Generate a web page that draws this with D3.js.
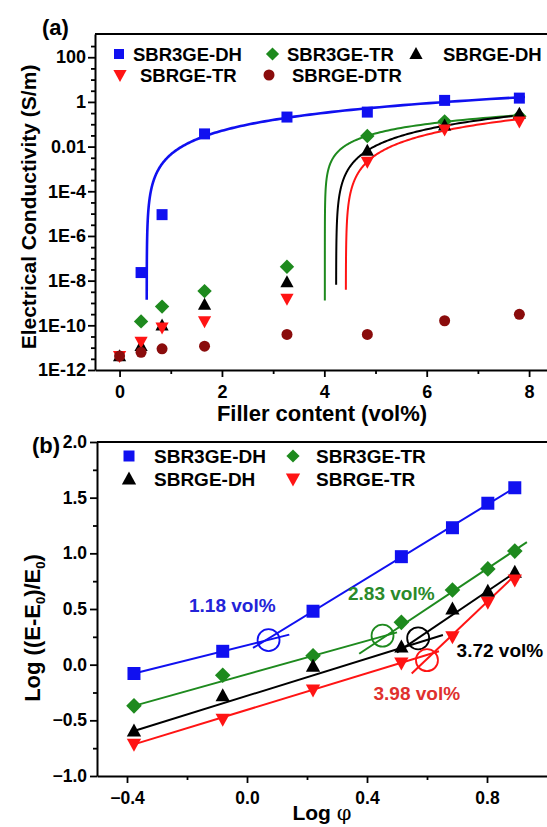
<!DOCTYPE html>
<html><head><meta charset="utf-8">
<script src="https://cdn.jsdelivr.net/npm/d3@7"></script>
<style>
body{margin:0;background:#fff}
svg text{font-family:"Liberation Sans",Arial,sans-serif;font-weight:bold}
</style>
</head><body>
<svg id="chart" width="547" height="827" xmlns="http://www.w3.org/2000/svg"></svg>
<script>
// ---------------- data: panel (a) ----------------
const filler = [0, 0.42, 0.83, 1.66, 3.27, 4.84, 6.35, 7.81];           // vol%
const sbr3geDH  = [null, 2.3e-8, 9e-6, 0.037, 0.21, 0.35, 1.17, 1.48];  // S/m
const sbr3geTR  = [null, 1.5e-10, 6.9e-10, 3.4e-9, 4.2e-8, 0.03, 0.135, 0.23];
const sbrgeDH   = [4.2e-12, 1.2e-11, 1.0e-10, 8.5e-10, 8.5e-9, 0.0066, 0.09, 0.3];
const sbrgeTR   = [4.2e-12, 1.8e-11, 7.9e-11, 1.5e-10, 1.55e-9, 0.0021, 0.058, 0.13];
const sbrgeDTR  = [4.2e-12, 6.2e-12, 8.9e-12, 1.17e-11, 3.9e-11, 3.9e-11, 1.6e-10, 3.1e-10];
// percolation fits  sigma = sigma0 * (phi - phiC)^t
const fitPhiC     = [0.53, 4.01, 4.23, 4.42];
const fitExponent = [2.15, 1.39, 2.05, 2.1];
const fitSigma0   = [0.0224, 0.0393, 0.0184, 0.0131];
const fitSigmaStart = [1.4e-9, 1.3e-9, 6.5e-9, 3.9e-9];
const fitPhiEnd   = [7.92, 7.9, 7.9, 7.9];
const yTicksA = [1e-12, 1e-10, 1e-8, 1e-6, 1e-4, 0.01, 1, 100];
const yTickLabelsA = ["1E-12", "1E-10", "1E-8", "1E-6", "1E-4", "0.01", "1", "100"];
const xTicksA = [0, 2, 4, 6, 8];

// ---------------- data: panel (b) ----------------
const logPhi = filler.slice(1).map(Math.log10);
const b_sbr3geDH = [-0.08, 0.12, 0.48, 0.97, 1.23, 1.45, 1.59];
const b_sbr3geTR = [-0.37, -0.095, 0.08, 0.38, 0.67, 0.86, 1.02];
const b_sbrgeDH  = [-0.596, -0.28, -0.015, 0.16, 0.50, 0.66, 0.83];
const b_sbrgeTR  = [-0.716, -0.49, -0.228, 0.015, 0.25, 0.56, 0.76];
// fitted straight segments [x0, y0, x1, y1] in data units
const lowerFits = [[-0.377, -0.08, 0.141, 0.27], [-0.377, -0.37, 0.50, 0.29], [-0.377, -0.596, 0.653, 0.267], [-0.377, -0.716, 0.64, 0.12]];
const upperFits = [[0.02, 0.15, 0.893, 1.59], [0.374, 0.098, 0.933, 1.10], [0.50, 0.11, 0.90, 0.84], [0.549, -0.08, 0.90, 0.82]];
const thresholds = [1.18, 2.83, 3.72, 3.98];
const thresholdY = [0.22, 0.26, 0.237, 0.04];
const thresholdLabels = ["1.18 vol%", "2.83 vol%", "3.72 vol%", "3.98 vol%"];
const labelX = [-0.049, 0.481, 0.843, 0.566];
const labelY = [0.536, 0.641, 0.132, -0.252];
const xTicksB = [-0.4, 0.0, 0.4, 0.8];
const yTicksB = [-1.0, -0.5, 0.0, 0.5, 1.0, 1.5, 2.0];

// ---------------- styles ----------------
const C = {blue: "#1010f0", green: "#1e8a1e", black: "#000000", red: "#ff1414", dred: "#8a0c0c"};
const textC = {blue: "#2323d8", green: "#2a8a2a", black: "#000", red: "#e0302e"};

const svg = d3.select("#chart");

function marker(g, type, x, y, s, color) {
  let p;
  const h = s / 2;
  if (type === "square") p = `M${x-h},${y-h}h${s}v${s}h${-s}Z`;
  else if (type === "diamond") { const d = h * 1.2; p = `M${x},${y-d}L${x+d},${y}L${x},${y+d}L${x-d},${y}Z`; }
  else if (type === "up") { const w = h * 1.1; p = `M${x},${y-h*1.15}L${x+w},${y+h*0.85}L${x-w},${y+h*0.85}Z`; }
  else if (type === "down") { const w = h * 1.1; p = `M${x},${y+h*1.15}L${x+w},${y-h*0.85}L${x-w},${y-h*0.85}Z`; }
  if (type === "circle") g.append("circle").attr("cx", x).attr("cy", y).attr("r", h).attr("fill", color);
  else g.append("path").attr("d", p).attr("fill", color);
}

function styleAxis(g, fs) {
  g.attr("font-size", fs).attr("font-family", '"Liberation Sans",Arial,sans-serif').attr("font-weight", "bold");
  g.selectAll("path.domain").attr("stroke-width", 2);
  g.selectAll(".tick line").attr("stroke-width", 1.8);
}

// =============== PANEL (a) ===============
const xA = d3.scaleLinear().domain([-0.48, 8.6]).range([95, 95 + 9.08 * 51.19]);
const yA = d3.scaleLog().domain([1e-12, Math.pow(10, 3.04)]).range([370, 34]);

// axes
const gxA = svg.append("g").attr("transform", "translate(0,370)")
  .call(d3.axisBottom(xA).tickValues(xTicksA).tickSize(7).tickSizeOuter(0).tickPadding(8).tickFormat(d3.format("d")));
styleAxis(gxA, 18);
const gxAm = svg.append("g").attr("transform", "translate(0,370)")
  .call(d3.axisBottom(xA).tickValues([1, 3, 5, 7]).tickSize(4).tickFormat(""));
gxAm.select(".domain").remove(); gxAm.selectAll("line").attr("stroke-width", 1.8);

const gyA = svg.append("g").attr("transform", "translate(95,0)")
  .call(d3.axisLeft(yA).tickValues(yTicksA).tickSize(7).tickSizeOuter(0).tickPadding(2)
    .tickFormat((d, i) => yTickLabelsA[i]));
styleAxis(gyA, 18);
const minorA = d3.range(-23, 6).map(k => Math.pow(10, k / 2)).filter(v => !yTicksA.some(t => Math.abs(Math.log10(t) - Math.log10(v)) < 1e-6));
const gyAm = svg.append("g").attr("transform", "translate(95,0)")
  .call(d3.axisLeft(yA).tickValues(minorA).tickSize(4).tickFormat(""));
gyAm.select(".domain").remove(); gyAm.selectAll("line").attr("stroke-width", 1.8);

svg.append("line").attr("x1", 95).attr("x2", 547).attr("y1", 34).attr("y2", 34).attr("stroke", "#000").attr("stroke-width", 2);

// fit curves
const fitColors = [C.blue, C.green, C.black, C.red];
const fitWidths = [2.6, 2, 2, 2];
const lineA = d3.line().x(d => xA(d[0])).y(d => yA(d[1]));
fitPhiC.forEach((pc, i) => {
  const t = fitExponent[i], s0 = fitSigma0[i];
  const dMin = Math.pow(fitSigmaStart[i] / s0, 1 / t);
  const dMax = fitPhiEnd[i] - pc;
  const pts = d3.range(0, 301).map(k => {
    const d = Math.exp(Math.log(dMin) + (Math.log(dMax) - Math.log(dMin)) * k / 300);
    return [pc + d, s0 * Math.pow(d, t)];
  });
  svg.append("path").attr("d", lineA(pts)).attr("fill", "none")
    .attr("stroke", fitColors[i]).attr("stroke-width", fitWidths[i]);
});

// markers
const seriesA = [
  {v: sbr3geDH, type: "square", color: C.blue, s: 11},
  {v: sbr3geTR, type: "diamond", color: C.green, s: 12},
  {v: sbrgeDH, type: "up", color: C.black, s: 12},
  {v: sbrgeTR, type: "down", color: C.red, s: 12},
  {v: sbrgeDTR, type: "circle", color: C.dred, s: 11}
];
const gA = svg.append("g");
seriesA.forEach(s => s.v.forEach((v, i) => { if (v != null) marker(gA, s.type, xA(filler[i]), yA(v), s.s, s.color); }));

// legend (a)
const legA = [
  {t: "SBR3GE-DH", type: "square", color: C.blue, mx: 119, tx: 133, y: 54, s: 10},
  {t: "SBR3GE-TR", type: "diamond", color: C.green, mx: 272.5, tx: 287, y: 54, s: 11},
  {t: "SBRGE-DH", type: "up", color: C.black, mx: 416, tx: 443, y: 54, s: 12},
  {t: "SBRGE-TR", type: "down", color: C.red, mx: 120, tx: 140, y: 75, s: 12},
  {t: "SBRGE-DTR", type: "circle", color: C.dred, mx: 269, tx: 292, y: 75, s: 11}
];
legA.forEach(l => {
  marker(svg, l.type, l.mx, l.y, l.s, l.color);
  svg.append("text").attr("x", l.tx).attr("y", l.y + 6.5).attr("font-size", 18.5).text(l.t);
});

svg.append("text").attr("x", 42).attr("y", 35).attr("font-size", 22).text("(a)");
svg.append("text").attr("x", 322).attr("y", 421).attr("font-size", 22).attr("text-anchor", "middle").text("Filler content (vol%)");
svg.append("text").attr("transform", "translate(36,207) rotate(-90)").attr("font-size", 21)
  .attr("text-anchor", "middle").text("Electrical Conductivity (S/m)");

// =============== PANEL (b) ===============
const xB = d3.scaleLinear().domain([-0.5, 1.0]).range([97, 547]);
const yB = d3.scaleLinear().domain([-1, 2]).range([776, 442]);

const gxB = svg.append("g").attr("transform", "translate(0,776)")
  .call(d3.axisBottom(xB).tickValues(xTicksB).tickSize(7).tickSizeOuter(0).tickPadding(9).tickFormat(d3.format(".1f")));
styleAxis(gxB, 17.5);
const gxBm = svg.append("g").attr("transform", "translate(0,776)")
  .call(d3.axisBottom(xB).tickValues([-0.2, 0.2, 0.6]).tickSize(4).tickFormat(""));
gxBm.select(".domain").remove(); gxBm.selectAll("line").attr("stroke-width", 1.8);

const gyB = svg.append("g").attr("transform", "translate(97,0)")
  .call(d3.axisLeft(yB).tickValues(yTicksB).tickSize(7).tickSizeOuter(0).tickPadding(3).tickFormat(d3.format(".1f")));
styleAxis(gyB, 17.5);
const gyBm = svg.append("g").attr("transform", "translate(97,0)")
  .call(d3.axisLeft(yB).tickValues([-0.75, -0.25, 0.25, 0.75, 1.25, 1.75]).tickSize(4).tickFormat(""));
gyBm.select(".domain").remove(); gyBm.selectAll("line").attr("stroke-width", 1.8);

svg.append("line").attr("x1", 97).attr("x2", 547).attr("y1", 442).attr("y2", 442).attr("stroke", "#000").attr("stroke-width", 2);

const seriesB = [
  {v: b_sbr3geDH, type: "square", color: C.blue, tc: textC.blue, s: 13},
  {v: b_sbr3geTR, type: "diamond", color: C.green, tc: textC.green, s: 13},
  {v: b_sbrgeDH, type: "up", color: C.black, tc: textC.black, s: 13},
  {v: b_sbrgeTR, type: "down", color: C.red, tc: textC.red, s: 13}
];
const gB = svg.append("g");
seriesB.forEach((s, i) => {
  [lowerFits[i], upperFits[i]].forEach(f => {
    gB.append("line").attr("x1", xB(f[0])).attr("y1", yB(f[1])).attr("x2", xB(f[2])).attr("y2", yB(f[3]))
      .attr("stroke", s.color).attr("stroke-width", 2);
  });
});
seriesB.forEach((s, i) => {
  s.v.forEach((v, j) => marker(gB, s.type, xB(logPhi[j]), yB(v), s.s, s.color));
});
seriesB.forEach((s, i) => {
  gB.append("circle").attr("cx", xB(Math.log10(thresholds[i]))).attr("cy", yB(thresholdY[i])).attr("r", 11)
    .attr("fill", "none").attr("stroke", s.color).attr("stroke-width", 1.8);
  gB.append("text").attr("x", xB(labelX[i])).attr("y", yB(labelY[i]) + 7).attr("text-anchor", "middle")
    .attr("font-size", 19).attr("fill", s.tc).text(thresholdLabels[i]);
});

// legend (b)
const legB = [
  {t: "SBR3GE-DH", type: "square", color: C.blue, mx: 129, tx: 154, y: 456, s: 11},
  {t: "SBR3GE-TR", type: "diamond", color: C.green, mx: 293, tx: 316, y: 456, s: 11},
  {t: "SBRGE-DH", type: "up", color: C.black, mx: 129, tx: 154, y: 479, s: 13},
  {t: "SBRGE-TR", type: "down", color: C.red, mx: 293, tx: 316, y: 479, s: 13}
];
legB.forEach(l => {
  marker(svg, l.type, l.mx, l.y, l.s, l.color);
  svg.append("text").attr("x", l.tx).attr("y", l.y + 7).attr("font-size", 19).text(l.t);
});

svg.append("text").attr("x", 32).attr("y", 453).attr("font-size", 22).text("(b)");
const xt = svg.append("text").attr("x", 322).attr("y", 820).attr("font-size", 21).attr("text-anchor", "middle");
xt.append("tspan").text("Log ");
xt.append("tspan").attr("font-family", '"DejaVu Serif",serif').attr("font-weight", "normal").text("φ");
const yt = svg.append("text").attr("transform", "translate(40,628) rotate(-90)").attr("font-size", 22).attr("text-anchor", "middle");
yt.append("tspan").text("Log ((E-E");
yt.append("tspan").attr("font-size", 13).attr("dy", 5).text("0");
yt.append("tspan").attr("dy", -5).text(")/E");
yt.append("tspan").attr("font-size", 13).attr("dy", 5).text("0");
yt.append("tspan").attr("dy", -5).text(")");
</script>
</body></html>
